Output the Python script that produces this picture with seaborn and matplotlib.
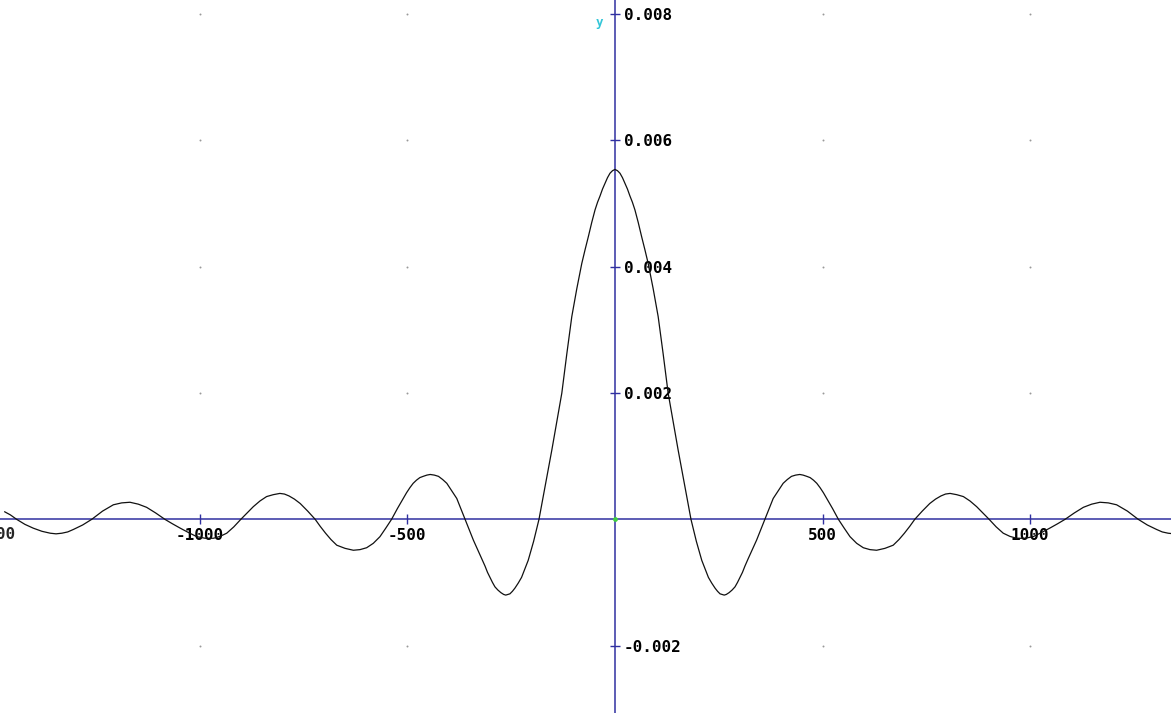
import numpy as np
import pandas as pd
import matplotlib
matplotlib.use("Agg")
import matplotlib.pyplot as plt
import seaborn as sns

# valori (meta' destra, la curva e' simmetrica)
x_half = [0, 6, 12, 18, 24, 30, 36, 42, 48, 56, 64, 72, 80, 92, 104, 116, 128,
          140, 152, 168, 183, 196, 209, 225, 233, 241, 247, 253, 258, 263, 268,
          275, 282, 289, 295, 301, 307, 313, 321, 341, 361, 381, 405, 415, 425,
          435, 445, 453, 462, 470, 478, 486, 494, 502, 510, 524, 538, 552, 566,
          582, 598, 614, 630, 650, 670, 684, 697, 710, 722, 740, 758, 772, 785,
          796, 807, 823, 839, 855, 871, 886, 901, 918, 935, 951, 967, 987,
          1007, 1027, 1047, 1066, 1084, 1106, 1128, 1148, 1168, 1188, 1208,
          1234, 1260, 1282, 1304, 1318, 1332, 1346, 1360, 1380, 1401, 1421,
          1441, 1456, 1470]
y_half = [0.00554, 0.00552, 0.00548, 0.00541, 0.00532, 0.00523, 0.00512,
          0.00502, 0.00490, 0.00470, 0.00448, 0.00427, 0.00405, 0.00365,
          0.00321, 0.00262, 0.00200, 0.00155, 0.00110, 0.00053, 0.0,
          -0.00035, -0.00065, -0.00092, -0.00101, -0.00109, -0.00114,
          -0.00118, -0.00119, -0.00120, -0.00119, -0.00116, -0.00112,
          -0.00107, -0.00100, -0.00092, -0.00084, -0.00074, -0.00062,
          -0.00033, 0.0, 0.00033, 0.00057, 0.00063, 0.00068, 0.00070,
          0.00071, 0.00070, 0.00068, 0.00066, 0.00062, 0.00057, 0.00050,
          0.00042, 0.00033, 0.00017, 0.0, -0.00014, -0.000275, -0.00038,
          -0.00045, -0.00048, -0.00049, -0.00046, -0.00041, -0.00032,
          -0.00022, -0.00011, 0.0, 0.00013, 0.00025, 0.00032, 0.00037,
          0.00040, 0.00041, 0.00039, 0.00036, 0.00029, 0.00020, 0.00010, 0.0,
          -0.00012, -0.00022, -0.00027, -0.00030, -0.00030, -0.000275,
          -0.00021, -0.00014, -0.00007, 0.0, 0.00010, 0.00019, 0.00024,
          0.00027, 0.00026, 0.00023, 0.00013, 0.0, -0.00009, -0.00016,
          -0.00020, -0.00022, -0.00023, -0.00022, -0.00019, -0.00014,
          -0.00008, 0.0, 0.00007, 0.00012]

x_ticks = [-1000, -500, 500, 1000]
y_ticks = [-0.002, 0.002, 0.004, 0.006, 0.008]
grid_x = [-1000, -500, 500, 1000]
grid_y = [-0.002, 0.002, 0.004, 0.006, 0.008]

x_full = [-v for v in x_half[:0:-1]] + x_half
y_full = y_half[:0:-1] + y_half
df = pd.DataFrame({"x": x_full, "y": y_full})

sns.set_style("white")
plt.rcParams["axes.unicode_minus"] = False
plt.rcParams["font.family"] = ["DejaVu Sans Mono"]

axis_col = "#3030a0"
fig = plt.figure(figsize=(11.71, 7.13), dpi=100)
ax = fig.add_axes([0, 0, 1, 1])

# punti della griglia
gx, gy = np.meshgrid(grid_x, grid_y)
ax.scatter(gx.ravel(), gy.ravel(), s=2, color="#999999", zorder=1, linewidths=0)

sns.lineplot(data=df, x="x", y="y", color="#111111", linewidth=0.9, ax=ax,
             sort=False, zorder=3)

ax.set_xlim(-1481, 1339)
ax.set_ylim(-0.003067, 0.008223)

# assi al centro
for s in ["top", "left"]:
    ax.spines[s].set_visible(False)
ax.spines["bottom"].set_position(("data", 0))
ax.spines["right"].set_position(("data", 0))
for s in ["bottom", "right"]:
    ax.spines[s].set_color(axis_col)
    ax.spines[s].set_linewidth(1.1)
    ax.spines[s].set_zorder(2)

ax.xaxis.set_ticks_position("bottom")
ax.yaxis.set_ticks_position("right")
ax.set_xticks(x_ticks)
ax.set_xticklabels([str(v) for v in x_ticks])
ax.set_yticks(y_ticks)
ax.set_yticklabels([f"{v:.3f}" for v in y_ticks])
ax.tick_params(axis="both", direction="inout", length=7, width=1,
               color=axis_col, labelsize=11.5, labelcolor="black", pad=3)
for lab in ax.get_xticklabels() + ax.get_yticklabels():
    lab.set_fontweight("bold")
ax.set_xlabel("")
ax.set_ylabel("")

# etichetta -1500 tagliata sul bordo
ax.annotate("-1500", xy=(-1500, 0), xytext=(0, -8), textcoords="offset pixels",
            ha="center", va="top", fontsize=11.5, fontweight="bold",
            annotation_clip=False)

ax.annotate("y", xy=(0, 0.008), xytext=(-16, -8), textcoords="offset pixels",
            ha="center", va="center", fontsize=9, fontweight="bold",
            color="#33c6d8")
ax.scatter([0], [0], s=12, color="#40d040", zorder=4, linewidths=0)

fig.savefig("out.png", dpi=100)
